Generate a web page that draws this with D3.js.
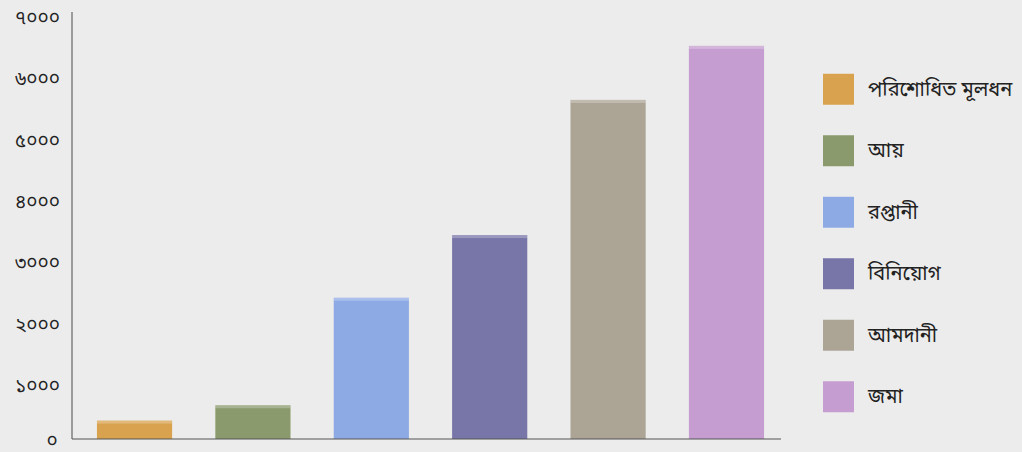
<!DOCTYPE html>
<html><head><meta charset="utf-8">
<script src="https://cdn.jsdelivr.net/npm/d3@7"></script>
<style>
html,body{margin:0;padding:0;background:#ececec;}
svg{display:block;}
text{font-family:"Noto Sans Bengali","Noto Sans","DejaVu Sans",sans-serif;fill:#222;}
</style></head>
<body>
<svg id="chart" width="1022" height="452"></svg>
<script>
const categories = ["পরিশোধিত মূলধন","আয়","রপ্তানী","বিনিয়োগ","আমদানী","জমা"];
const values = [300, 550, 2300, 3320, 5520, 6400];
const colors = ["#d9a24e","#8a9a6c","#8eaae4","#7876a8","#aca596","#c59dd0"];
const tickValues = [0,1000,2000,3000,4000,5000,6000,7000];
const tickLabels = ["০","১০০০","২০০০","৩০০০","৪০০০","৫০০০","৬০০০","৭০০০"];

const svg = d3.select("#chart");
svg.append("rect").attr("width",1022).attr("height",452).attr("fill","#ececec");

const y = d3.scaleLinear().domain([0,7000]).range([439,9]);
const x = d3.scaleBand().domain(categories).range([78,783]).paddingInner(0.365).paddingOuter(0.16);

// bars
svg.append("g").selectAll("rect").data(categories).join("rect")
  .attr("x", d=>x(d)).attr("width", x.bandwidth())
  .attr("y", (d,i)=>y(values[i])).attr("height",(d,i)=>y(0)-y(values[i]))
  .attr("fill",(d,i)=>colors[i]);
// light top edges
svg.append("g").selectAll("rect").data(categories).join("rect")
  .attr("x", d=>x(d)).attr("width", x.bandwidth())
  .attr("y", (d,i)=>y(values[i])).attr("height",3)
  .attr("fill","#ffffff").attr("opacity",0.25);

// y axis
const yAxis = d3.axisLeft(y).tickValues(tickValues).tickSize(0).tickPadding(12)
  .tickFormat((d,i)=>tickLabels[i]);
const gy = svg.append("g").attr("transform","translate(72,0)").call(yAxis);
gy.select(".domain").attr("stroke","#666").attr("stroke-width",1.2).attr("d","M0,12V439");
gy.selectAll(".tick text").attr("font-size",19).attr("dy","0.75em").attr("fill","#222")
  .attr("font-family","'Noto Sans Bengali','Noto Sans','DejaVu Sans',sans-serif");
gy.selectAll(".tick text").filter(d=>d===0)
  .attr("x",-20).attr("text-anchor","middle").attr("dy","0.4em");

// x baseline
const xAxis = d3.axisBottom(x).tickSize(0).tickFormat("");
const gx = svg.append("g").attr("transform","translate(0,439)").call(xAxis);
gx.select(".domain").attr("stroke","#555").attr("stroke-width",1.2).attr("d","M72,0H781");

// legend
const ly = d3.scaleBand().domain(categories).range([58,427]).paddingInner(0);
const lg = svg.append("g").selectAll("g").data(categories).join("g")
  .attr("transform", d=>`translate(823,${ly(d)+ly.bandwidth()/2})`);
lg.append("rect").attr("x",0).attr("y",-15).attr("width",31).attr("height",31)
  .attr("fill",(d,i)=>colors[i]);
lg.append("text").attr("x",45).attr("y",0).attr("dy","0.35em")
  .attr("font-size",20).text(d=>d);
</script>
</body></html>
